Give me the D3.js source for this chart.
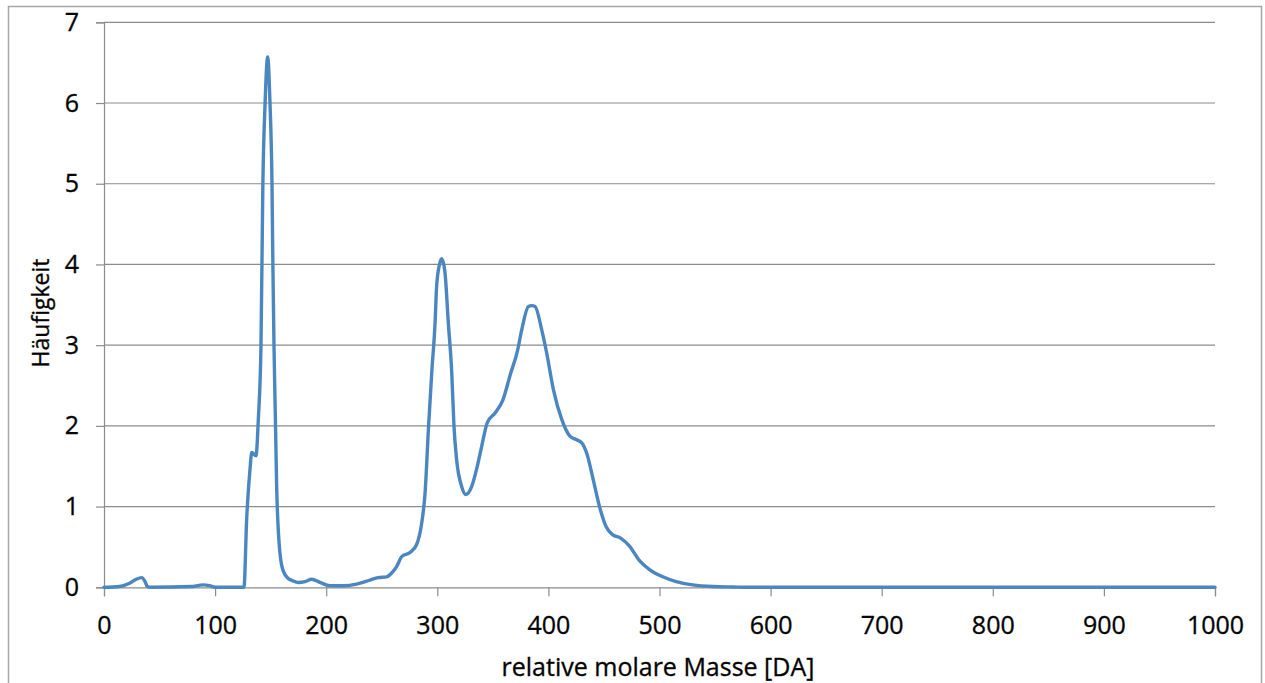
<!DOCTYPE html>
<html>
<head>
<meta charset="utf-8">
<script src="https://cdn.jsdelivr.net/npm/d3@7"></script>
<style>
  html, body { margin: 0; padding: 0; background: #fff; }
  svg { display: block; }
  text { font-family: "Open Sans", "Liberation Sans", sans-serif; fill: #000; }
</style>
</head>
<body>
<svg id="chart" width="1265" height="683"></svg>
<script>
// relative molare Masse [DA]
const masse = [0, 14, 23, 29, 34, 37, 39, 41, 80, 89, 95, 100, 126, 128.4, 131.4, 133, 136.8, 138.9, 141.3, 143, 145, 147.3, 149.4, 151.2, 152, 153, 154.4, 155.4, 158.4, 161.4, 165.9, 170, 174.9, 180.9, 186.9, 194.4, 203.4, 215.4, 227.4, 239.4, 246.9, 254.4, 260.4, 263.5, 268, 275.4, 281.4, 286, 289, 292, 295, 298, 299.4, 302, 304, 306.9, 309.9, 313, 315, 317.4, 321.9, 325.8, 331, 336, 340, 345, 352, 359, 366, 372, 376, 382, 385, 388, 394, 398.5, 404.5, 412, 419.5, 425, 430, 434.5, 440.4, 446, 452, 458, 465, 473, 482, 491, 503, 515, 530, 548, 566, 580, 1000];
// Häufigkeit
const haeufigkeit = [0, 0.01, 0.05, 0.10, 0.12, 0.07, 0.01, 0, 0.01, 0.03, 0.02, 0, 0, 0.84, 1.46, 1.67, 1.63, 2.08, 3.0, 5.0, 6.0, 6.57, 6.0, 5.0, 4.0, 3.0, 2.0, 1.25, 0.42, 0.20, 0.11, 0.08, 0.06, 0.07, 0.10, 0.06, 0.02, 0.02, 0.04, 0.09, 0.12, 0.13, 0.20, 0.26, 0.38, 0.43, 0.53, 0.80, 1.17, 1.96, 2.66, 3.28, 3.73, 4.0, 4.07, 3.9, 3.28, 2.66, 2.0, 1.58, 1.25, 1.15, 1.25, 1.5, 1.75, 2.04, 2.16, 2.32, 2.65, 2.92, 3.19, 3.48, 3.49, 3.48, 3.19, 2.90, 2.45, 2.08, 1.87, 1.83, 1.79, 1.66, 1.33, 1.0, 0.75, 0.65, 0.61, 0.51, 0.33, 0.22, 0.13, 0.07, 0.03, 0.01, 0.004, 0, 0];
const xTicks = [0, 100, 200, 300, 400, 500, 600, 700, 800, 900, 1000];
const yTicks = [0, 1, 2, 3, 4, 5, 6, 7];
const xTitle = "relative molare Masse [DA]";
const yTitle = "Häufigkeit";

const svg = d3.select("#chart");
const plotLeft = 104, plotRight = 1215, plotTop = 22.3, plotBottom = 587.3;

// outer frame
svg.append("rect")
  .attr("x", 8.5).attr("y", 6.5).attr("width", 1253).attr("height", 720)
  .attr("fill", "none").attr("stroke", "#a6a6a6").attr("stroke-width", 1.5);

const x = d3.scaleLinear().domain([0, 1000]).range([plotLeft, plotRight]);
const y = d3.scaleLinear().domain([0, 7]).range([plotBottom, plotTop]);

// gridlines
svg.append("g")
  .selectAll("line")
  .data(yTicks.filter(d => d > 0))
  .join("line")
  .attr("x1", plotLeft).attr("x2", plotRight)
  .attr("y1", d => y(d)).attr("y2", d => y(d))
  .attr("stroke", "#8c8c8c").attr("stroke-width", 1.2);

const textStyle = sel => sel
  .attr("fill", "#111").attr("stroke", "#111").attr("stroke-width", 0.35)
  .attr("font-family", "'Open Sans', sans-serif");

// y axis
const yAxis = svg.append("g")
  .attr("transform", `translate(${plotLeft},0)`)
  .call(d3.axisLeft(y).tickValues(yTicks).tickSize(8).tickPadding(17).tickFormat(d3.format("d")));
yAxis.select(".domain").attr("stroke", "#8c8c8c").attr("stroke-width", 1.2);
yAxis.selectAll(".tick line").attr("stroke", "#8c8c8c").attr("stroke-width", 1.2);
yAxis.selectAll(".tick text").attr("font-size", 25).call(textStyle);

// x axis
const xAxis = svg.append("g")
  .attr("transform", `translate(0,${plotBottom})`)
  .call(d3.axisBottom(x).tickValues(xTicks).tickSize(9).tickPadding(20).tickFormat(d3.format("d")));
xAxis.select(".domain").attr("stroke", "#8c8c8c").attr("stroke-width", 1.2);
xAxis.selectAll(".tick line").attr("stroke", "#8c8c8c").attr("stroke-width", 1.2);
xAxis.selectAll(".tick text").attr("font-size", 25).call(textStyle);

// line
const pts = masse.map((m, i) => [m, haeufigkeit[i]]);
svg.append("path")
  .datum(pts)
  .attr("fill", "none")
  .attr("stroke", "#4a86c0")
  .attr("stroke-width", 3.4)
  .attr("stroke-linejoin", "round")
  .attr("stroke-linecap", "round")
  .attr("d", d3.line().x(d => x(d[0])).y(d => y(d[1])).curve(d3.curveMonotoneX));

// titles
svg.append("text")
  .attr("x", 658).attr("y", 676)
  .attr("text-anchor", "middle")
  .attr("font-size", 25)
  .call(textStyle)
  .text(xTitle);

svg.append("text")
  .attr("transform", "translate(49,313) rotate(-90)")
  .attr("text-anchor", "middle")
  .attr("font-size", 23)
  .call(textStyle)
  .text(yTitle);
</script>
</body>
</html>
